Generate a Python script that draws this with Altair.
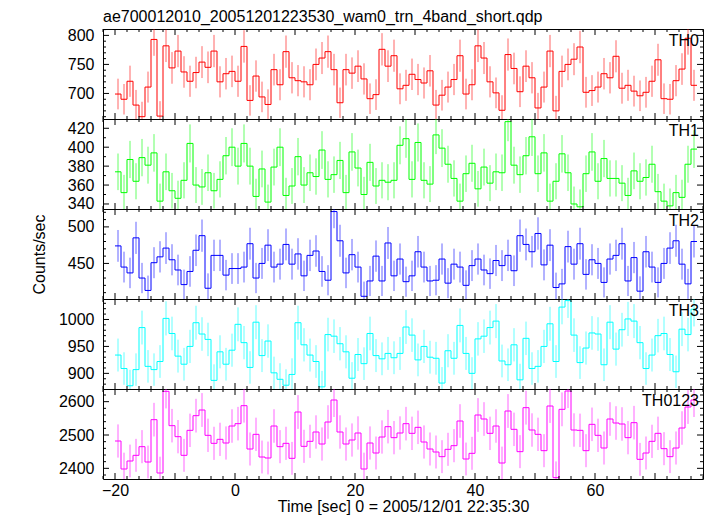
import altair as alt
import numpy as np
import pandas as pd

# 1-second bins, start times (sec)
time_start = list(range(-20, 77))

th0 = [699, 690, 721, 680, 660, 711, 793, 661, 782, 744,
       773, 737, 721, 736, 754, 745, 773, 720, 734, 738,
       721, 781, 688, 730, 694, 681, 741, 715, 772, 727,
       722, 720, 715, 750, 761, 772, 741, 684, 741, 735,
       747, 725, 691, 698, 776, 747, 765, 708, 714, 733,
       724, 718, 739, 680, 697, 711, 724, 765, 699, 715,
       782, 761, 720, 701, 671, 767, 743, 703, 747, 727,
       675, 711, 773, 670, 738, 750, 759, 780, 702, 705,
       711, 734, 727, 764, 709, 714, 704, 696, 702, 721,
       758, 691, 690, 722, 742, 795, 714]

th1 = [374, 352, 387, 364, 389, 381, 394, 343, 374, 354,
       346, 365, 404, 360, 358, 373, 354, 366, 391, 400,
       380, 404, 380, 348, 377, 342, 379, 400, 349, 359,
       390, 360, 373, 369, 397, 366, 371, 386, 352, 395,
       378, 350, 384, 359, 365, 363, 365, 402, 409, 366,
       405, 365, 361, 413, 399, 382, 367, 343, 372, 383,
       356, 379, 362, 374, 373, 427, 381, 371, 391, 411,
       372, 394, 343, 364, 393, 373, 340, 337, 372, 395,
       364, 388, 367, 367, 362, 349, 375, 364, 368, 382,
       353, 343, 338, 352, 347, 382, 398]

th2 = [474, 445, 437, 485, 430, 413, 451, 459, 471, 455,
       441, 421, 439, 468, 488, 416, 461, 461, 434, 443,
       443, 445, 477, 430, 450, 475, 445, 449, 476, 449,
       463, 433, 461, 467, 439, 427, 521, 481, 437, 462,
       445, 405, 426, 460, 426, 478, 433, 456, 425, 433,
       466, 445, 426, 427, 456, 423, 449, 445, 420, 447,
       456, 441, 436, 454, 447, 461, 440, 488, 476, 466,
       491, 448, 475, 417, 422, 473, 449, 477, 435, 455,
       450, 424, 456, 461, 477, 426, 458, 412, 466, 445,
       424, 450, 471, 481, 449, 422, 480]

th3 = [934, 909, 877, 907, 985, 913, 907, 922, 1002, 974,
       932, 917, 950, 994, 973, 963, 887, 940, 917, 943,
       991, 957, 911, 995, 933, 960, 901, 889, 878, 898,
       994, 953, 934, 922, 875, 972, 969, 955, 940, 891,
       935, 918, 974, 933, 927, 937, 929, 937, 986, 971,
       925, 950, 930, 928, 882, 942, 928, 989, 937, 900,
       964, 969, 985, 997, 923, 916, 953, 888, 965, 909,
       913, 950, 992, 922, 1023, 1035, 971, 920, 947, 975,
       973, 916, 995, 945, 981, 1001, 997, 957, 909, 934,
       970, 974, 935, 903, 982, 972, 1019]

th0123 = [2482, 2398, 2422, 2439, 2465, 2419, 2546, 2386, 2631, 2528,
          2495, 2439, 2514, 2558, 2575, 2499, 2475, 2487, 2476, 2527,
          2534, 2588, 2458, 2502, 2434, 2431, 2527, 2465, 2475, 2430,
          2569, 2466, 2481, 2509, 2473, 2539, 2605, 2509, 2473, 2485,
          2506, 2398, 2476, 2446, 2494, 2525, 2492, 2506, 2534, 2505,
          2523, 2479, 2458, 2449, 2435, 2457, 2468, 2542, 2428, 2445,
          2560, 2548, 2505, 2527, 2416, 2572, 2517, 2450, 2582, 2515,
          2502, 2453, 2587, 2372, 2577, 2632, 2515, 2514, 2453, 2532,
          2499, 2461, 2548, 2536, 2533, 2492, 2537, 2427, 2446, 2481,
          2505, 2459, 2435, 2461, 2521, 2584, 2605]

panel_names = ["TH0", "TH1", "TH2", "TH3", "TH0123"]
panel_colors = ["#ff0000", "#00ff00", "#0000ff", "#00ffff", "#ff00ff"]
panel_series = [th0, th1, th2, th3, th0123]
y_domains = [[656, 811], [334.7, 429.8], [401.3, 524.5], [871, 1038], [2368, 2638]]
y_label_values = [[700, 750, 800], [340, 360, 380, 400, 420], [450, 500],
                  [900, 950, 1000], [2400, 2500, 2600]]
y_minor_step = [10, 10, 10, 10, 20]

x_domain = [-22, 78]
x_label_values = [-20, 0, 20, 40, 60]
x_major_ticks = [-20, -10, 0, 10, 20, 30, 40, 50, 60, 70]
x_minor_ticks = [v for v in range(-22, 79, 2) if v % 10 != 0]

title_text = "ae700012010_20051201223530_wam0_trn_4band_short.qdp"
x_title = "Time [sec] 0 = 2005/12/01 22:35:30"
y_title = "Counts/sec"

W, H = 600, 90
FONT = "Liberation Sans"


def panel(i):
    vals = panel_series[i]
    color = panel_colors[i]
    last = i == len(panel_series) - 1
    xscale = alt.Scale(domain=x_domain, nice=False, zero=False)
    yscale = alt.Scale(domain=y_domains[i], nice=False, zero=False)
    if last:
        xaxis = alt.Axis(values=x_label_values, format="d", tickSize=0, labelPadding=3,
                         domain=False, grid=False, title=x_title, labelFontSize=16,
                         titleFontSize=16, labelFont=FONT, titleFont=FONT,
                         titleFontWeight="normal", titlePadding=0,
                         labelColor="black", titleColor="black")
    else:
        xaxis = None
    yaxis = alt.Axis(values=y_label_values[i], format="d", tickSize=0, labelPadding=9,
                     domain=False, grid=False, title=y_title if i == 2 else None,
                     labelFontSize=16, titleFontSize=16, labelFont=FONT, titleFont=FONT,
                     titleFontWeight="normal", titlePadding=11, minExtent=45, maxExtent=45,
                     labelColor="black", titleColor="black")

    df = pd.DataFrame({"t": time_start, "v": vals})
    df["mid"] = df["t"] + 0.5
    df["lo"] = df["v"] - np.sqrt(df["v"])
    df["hi"] = df["v"] + np.sqrt(df["v"])
    step_df = pd.concat([df[["t", "v"]],
                         pd.DataFrame({"t": [time_start[-1] + 1], "v": [vals[-1]]})],
                        ignore_index=True)

    err = alt.Chart(df).mark_rule(color=color, strokeWidth=1, opacity=0.6, clip=True).encode(
        x=alt.X("mid:Q", scale=xscale, axis=xaxis),
        y=alt.Y("lo:Q", scale=yscale, axis=yaxis),
        y2="hi:Q")
    step = alt.Chart(step_df).mark_line(interpolate="step-after", color=color,
                                        strokeWidth=1, clip=True).encode(
        x=alt.X("t:Q", scale=xscale, axis=xaxis),
        y=alt.Y("v:Q", scale=yscale, axis=yaxis))

    lo, hi = y_domains[i]
    st = y_minor_step[i]
    minor_y = [v for v in range(int(np.ceil(lo / st) * st), int(hi) + 1, st)
               if v not in y_label_values[i]]
    ymaj = pd.DataFrame({"y": y_label_values[i]})
    ymin = pd.DataFrame({"y": minor_y})
    xmaj = pd.DataFrame({"x": x_major_ticks})
    xmin = pd.DataFrame({"x": x_minor_ticks})

    def ytick(d, x0, x1):
        return alt.Chart(d).mark_rule(color="black", strokeWidth=1).encode(
            y=alt.Y("y:Q", scale=yscale, axis=yaxis), x=alt.value(x0), x2=alt.value(x1))

    def xtick(d, y0, y1):
        return alt.Chart(d).mark_rule(color="black", strokeWidth=1).encode(
            x=alt.X("x:Q", scale=xscale, axis=xaxis), y=alt.value(y0), y2=alt.value(y1))

    ticks = [ytick(ymaj, 0, 6), ytick(ymaj, W - 6, W), ytick(ymin, 0, 3), ytick(ymin, W - 3, W),
             xtick(xmaj, 0, 6), xtick(xmaj, H - 6, H), xtick(xmin, 0, 3), xtick(xmin, H - 3, H)]

    lab = alt.Chart(pd.DataFrame({"name": [panel_names[i]]})).mark_text(
        align="right", baseline="alphabetic", fontSize=16, font=FONT, color="black").encode(
        x=alt.value(W - 4), y=alt.value(17), text="name:N")

    layer = alt.layer(err, step, *ticks, lab).properties(width=W, height=H)
    if i == 0:
        layer = layer.properties(title=alt.Title(title_text, anchor="start", frame="group",
                                                 fontSize=16, font=FONT, fontWeight="normal",
                                                 offset=2, color="black"))
    return layer


chart = alt.vconcat(*[panel(i) for i in range(len(panel_series))], spacing=0,
                    bounds="flush").properties(
    padding={"left": 22, "top": 0, "right": 5, "bottom": 0}
).configure_view(stroke="black", strokeWidth=1)

chart.save("out.html", embed_options={"renderer": "svg", "actions": False})
